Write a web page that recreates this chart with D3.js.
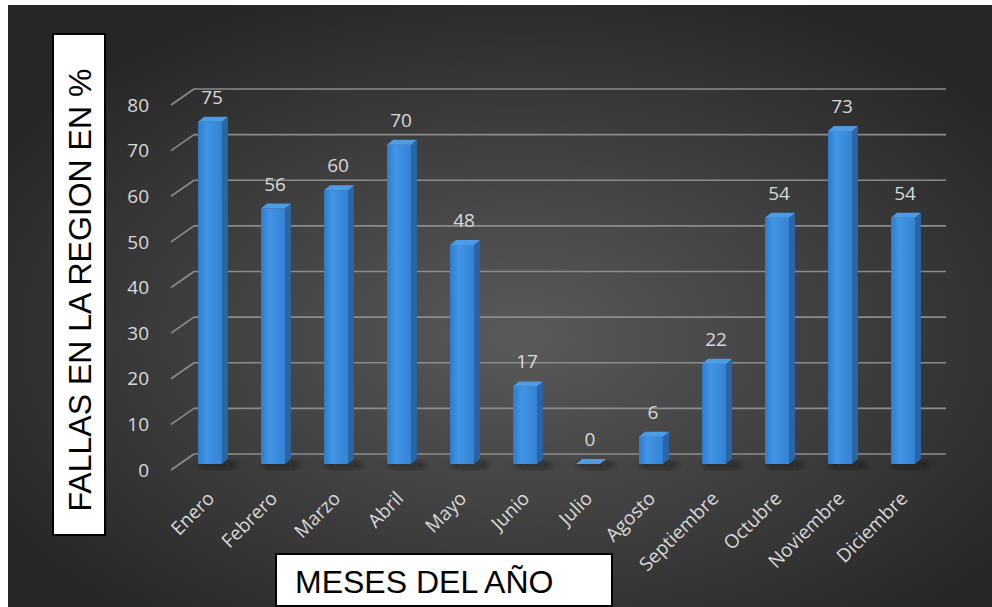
<!DOCTYPE html>
<html>
<head>
<meta charset="utf-8">
<script src="https://cdn.jsdelivr.net/npm/d3@7"></script>
<style>
  html, body { margin: 0; padding: 0; background: #fff; }
  svg { display: block; }
</style>
</head>
<body>
<svg width="992" height="607"></svg>
<script>
// datos del grafico
var meses = ['Enero','Febrero','Marzo','Abril','Mayo','Junio','Julio','Agosto','Septiembre','Octubre','Noviembre','Diciembre'];
var fallas = [75, 56, 60, 70, 48, 17, 0, 6, 22, 54, 73, 54];
var ticksY = [0, 10, 20, 30, 40, 50, 60, 70, 80];
var tituloY = 'FALLAS EN LA REGION EN %';
var tituloX = 'MESES DEL AÑO';

var svg = d3.select("svg");
var defs = svg.append("defs");

// fondo
var bg = defs.append("radialGradient").attr("id", "bg")
  .attr("cx", "52%").attr("cy", "55%").attr("r", "62%");
bg.append("stop").attr("offset", "0%").attr("stop-color", "#5a5a5a");
bg.append("stop").attr("offset", "50%").attr("stop-color", "#404040");
bg.append("stop").attr("offset", "100%").attr("stop-color", "#262626");
svg.append("rect").attr("x", 8).attr("y", 5).attr("width", 984).attr("height", 602)
  .attr("fill", "url(#bg)");

// degradados de barra
var front = defs.append("linearGradient").attr("id", "front").attr("x1", 0).attr("x2", 1).attr("y1", 0).attr("y2", 0);
front.append("stop").attr("offset", "0%").attr("stop-color", "#2f7ccc");
front.append("stop").attr("offset", "35%").attr("stop-color", "#4195e6");
front.append("stop").attr("offset", "100%").attr("stop-color", "#3583d4");
var shadow = defs.append("filter").attr("id", "blur").attr("x", "-50%").attr("y", "-50%").attr("width", "200%").attr("height", "200%");
shadow.append("feGaussianBlur").attr("stdDeviation", 3);

var dx = 23, dy = -16; // profundidad del eje

var x = d3.scaleBand().domain(meses).range([178.5, 934.5]).paddingInner(0.62).paddingOuter(0.31);
var y = d3.scaleLinear().domain([0, 80]).range([464, 99]);

// rejilla
var grid = svg.append("g");
grid.selectAll(".back")
  .data(ticksY)
  .enter()
  .append("line")
  .attr("x1", 171 + dx).attr("x2", 946)
  .attr("y1", function(d){ return y(d) + 6 + dy })
  .attr("y2", function(d){ return y(d) + 6 + dy })
  .attr("stroke", "#8c8c8c").attr("stroke-width", 1.6);
grid.selectAll(".diag")
  .data(ticksY)
  .enter()
  .append("line")
  .attr("x1", 171).attr("x2", 171 + dx)
  .attr("y1", function(d){ return y(d) + 6 })
  .attr("y2", function(d){ return y(d) + 6 + dy })
  .attr("stroke", "#8c8c8c").attr("stroke-width", 1.6);
grid.selectAll("text")
  .data(ticksY)
  .enter()
  .append("text")
  .attr("x", 149)
  .attr("y", function(d){ return y(d) + 6 })
  .attr("dy", "0.35em")
  .attr("text-anchor", "end")
  .attr("fill", "#d9d9d9")
  .attr("font-family", "Open Sans")
  .attr("font-size", 19)
  .text(function(d){ return d });

// sombras
svg.append("g").selectAll("ellipse")
  .data(fallas)
  .enter()
  .append("ellipse")
  .attr("cx", function(d, i){ return x(meses[i]) + x.bandwidth() / 2 + 8 })
  .attr("cy", y(0) + 1)
  .attr("rx", 20).attr("ry", 3)
  .attr("fill", "#111").attr("opacity", 0.6)
  .attr("filter", "url(#blur)");

// barras
var side = 6, rise = 5;
var bars = svg.append("g").selectAll("g")
  .data(fallas)
  .enter()
  .append("g");
bars.append("path")
  .attr("d", function(d, i){
    var x0 = x(meses[i]) + x.bandwidth(), t = y(d), b = y(0);
    return "M" + x0 + "," + b + "L" + x0 + "," + t + "L" + (x0 + side) + "," + (t - rise) + "L" + (x0 + side) + "," + (b - rise) + "Z";
  })
  .attr("fill", "#2a65a6");
bars.append("rect")
  .attr("x", function(d, i){ return x(meses[i]) })
  .attr("y", function(d){ return y(d) })
  .attr("width", x.bandwidth())
  .attr("height", function(d){ return y(0) - y(d) })
  .attr("fill", "url(#front)");
bars.append("path")
  .attr("d", function(d, i){
    var x0 = x(meses[i]), t = y(d);
    return "M" + x0 + "," + t + "L" + (x0 + x.bandwidth()) + "," + t + "L" + (x0 + x.bandwidth() + side) + "," + (t - rise) + "L" + (x0 + side) + "," + (t - rise) + "Z";
  })
  .attr("fill", "#4d9ce8");

// etiquetas de datos
svg.append("g").selectAll("text")
  .data(fallas)
  .enter()
  .append("text")
  .attr("x", function(d, i){ return x(meses[i]) + x.bandwidth() / 2 + 2 })
  .attr("y", function(d){ return y(d) - 18 })
  .attr("text-anchor", "middle")
  .attr("fill", "#d9d9d9")
  .attr("font-family", "Open Sans")
  .attr("font-size", 19)
  .text(function(d){ return d });

// categorias
svg.append("g").selectAll("text")
  .data(meses)
  .enter()
  .append("text")
  .attr("transform", function(d){
    return "translate(" + (x(d) + x.bandwidth() / 2 + 1) + ",495) rotate(-45)";
  })
  .attr("text-anchor", "end")
  .attr("dy", "0.35em")
  .attr("fill", "#d9d9d9")
  .attr("font-family", "Open Sans")
  .attr("font-size", 19)
  .text(function(d){ return d });

// titulos
svg.append("rect").attr("x", 53).attr("y", 34).attr("width", 52).attr("height", 501)
  .attr("fill", "#fff").attr("stroke", "#000").attr("stroke-width", 2);
svg.append("text")
  .attr("transform", "translate(91,290) rotate(-90)")
  .attr("text-anchor", "middle")
  .attr("font-family", "Liberation Sans")
  .attr("font-size", 32)
  .attr("fill", "#000")
  .text(tituloY);
svg.append("rect").attr("x", 276).attr("y", 554).attr("width", 336).attr("height", 52)
  .attr("fill", "#fff").attr("stroke", "#000").attr("stroke-width", 2);
svg.append("text")
  .attr("x", 295).attr("y", 593)
  .attr("font-family", "Liberation Sans")
  .attr("font-size", 32)
  .attr("fill", "#000")
  .text(tituloX);
</script>
</body>
</html>
